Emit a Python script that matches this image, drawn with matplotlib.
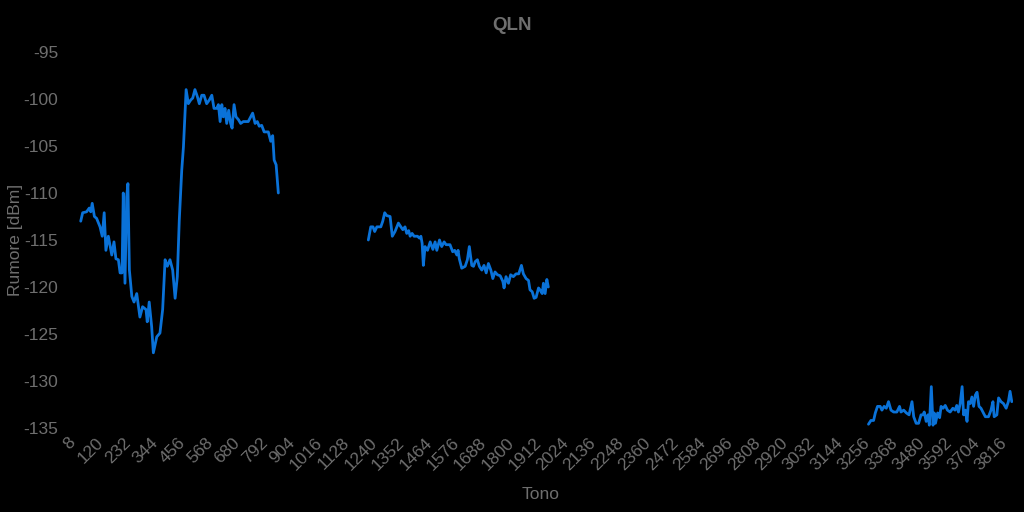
import numpy as np
import matplotlib
matplotlib.use("Agg")
import matplotlib.pyplot as plt

# Segment 1
tone1 = [60, 68, 84, 95, 101, 107, 116, 125, 139, 148, 156, 163, 173, 187, 196, 204, 214, 221, 229, 234,
         241, 248, 253, 259, 269, 278, 289, 302, 313, 327, 332, 340, 350, 357, 371, 384, 395, 405, 414, 425,
         436, 446, 455, 463, 473, 480, 491, 500, 510, 518, 527, 537, 545, 555, 564, 575, 586, 596, 605, 616,
         623, 630, 637, 643, 650, 657, 665, 673, 679, 687, 695, 705, 714, 725, 745, 763, 773, 782, 790, 800,
         810, 827, 837, 845, 851, 859, 868]
qln1 = [-113.0, -112.1, -112.0, -111.6, -112.0, -111.1, -112.5, -112.7, -113.6, -114.6, -112.1, -116.1, -114.6,
        -116.6, -115.2, -117.0, -117.1, -118.5, -118.5, -110.0, -119.6, -110.4, -109.0, -118.2, -121.0, -121.6,
        -120.7, -123.2, -122.1, -122.4, -123.7, -121.6, -124.2, -127.0, -125.3, -124.9, -122.4, -117.1, -117.8,
        -117.1, -118.2, -121.2, -118.9, -112.9, -107.6, -105.1, -99.0, -100.5, -100.1, -99.9, -99.0, -99.75,
        -100.5, -99.6, -99.6, -100.5, -100.1, -99.6, -101.0, -101.0, -100.6, -102.4, -100.6, -101.9, -101.0,
        -102.6, -101.2, -102.6, -103.1, -100.6, -101.9, -102.2, -102.6, -102.4, -102.4, -101.5, -102.6, -102.4,
        -102.9, -102.8, -103.5, -103.5, -104.5, -103.9, -106.5, -107.0, -110.0]

# Segment 2
tone2 = [1236, 1246, 1255, 1262, 1271, 1287, 1295, 1303, 1311, 1325, 1334, 1345, 1359, 1369, 1377, 1386, 1393,
         1401, 1407, 1415, 1423, 1437, 1445, 1451, 1456, 1461, 1468, 1478, 1489, 1500, 1509, 1516, 1527, 1536,
         1546, 1554, 1563, 1570, 1581, 1589, 1598, 1603, 1608, 1618, 1632, 1641, 1649, 1659, 1666, 1673, 1682,
         1690, 1700, 1709, 1718, 1727, 1737, 1745, 1754, 1764, 1775, 1786, 1791, 1799, 1809, 1818, 1829, 1840,
         1851, 1862, 1870, 1881, 1891, 1897, 1906, 1914, 1922, 1932, 1938, 1947, 1952, 1959, 1966, 1972]
qln2 = [-115.0, -113.6, -113.6, -114.1, -113.6, -113.6, -113.0, -112.1, -112.4, -112.5, -114.6, -114.1, -113.2,
        -113.6, -113.9, -113.6, -114.3, -114.0, -114.6, -114.3, -114.6, -114.6, -114.8, -114.6, -115.35, -117.7,
        -115.7, -116.1, -115.2, -116.0, -115.2, -116.1, -115.0, -115.7, -115.2, -115.5, -115.5, -115.5, -116.25,
        -116.1, -116.6, -116.1, -117.0, -118.0, -117.8, -117.1, -115.7, -117.7, -117.8, -117.3, -117.1, -117.8,
        -118.2, -117.7, -118.5, -117.5, -118.2, -119.1, -118.4, -118.7, -118.8, -119.4, -120.1, -118.9, -119.6,
        -118.7, -118.9, -118.6, -118.6, -117.7, -118.6, -119.1, -119.3, -120.3, -120.5, -121.2, -121.1, -120.1,
        -120.3, -120.7, -119.6, -120.7, -119.2, -120.0]

# Segment 3
tone3 = [3281, 3291, 3302, 3309, 3318, 3329, 3336, 3345, 3354, 3363, 3373, 3384, 3397, 3408, 3414, 3425, 3436,
         3447, 3459, 3466, 3476, 3486, 3496, 3504, 3509, 3517, 3524, 3530, 3538, 3545, 3550, 3555, 3564, 3572,
         3578, 3586, 3595, 3604, 3615, 3626, 3635, 3642, 3649, 3656, 3664, 3670, 3677, 3684, 3690, 3697, 3704,
         3711, 3718, 3725, 3733, 3741, 3749, 3759, 3772, 3782, 3790, 3795, 3806, 3813, 3823, 3833, 3844, 3853,
         3860, 3867]
qln3 = [-134.6, -134.2, -134.2, -133.4, -132.7, -132.7, -133.1, -132.7, -132.9, -132.2, -133.1, -133.3, -133.3,
        -132.7, -133.3, -133.1, -133.4, -133.6, -132.2, -133.8, -134.5, -134.5, -133.6, -133.6, -133.3, -134.3,
        -133.6, -134.7, -130.6, -134.7, -133.4, -134.5, -133.4, -133.9, -132.7, -132.9, -132.6, -133.1, -133.3,
        -132.9, -133.1, -132.6, -133.3, -132.4, -130.6, -133.6, -133.1, -134.3, -132.2, -132.4, -131.7, -132.7,
        -131.5, -131.2, -132.7, -132.9, -133.3, -133.8, -133.8, -133.1, -132.2, -133.8, -133.6, -131.8, -132.2,
        -132.4, -132.9, -132.2, -131.1, -132.2]

xtick_labels = list(range(8, 3817, 112))
yticks = [-95, -100, -105, -110, -115, -120, -125, -130, -135]

plt.rcParams['font.family'] = ['Liberation Sans', 'DejaVu Sans']

fig = plt.figure(figsize=(10.24, 5.12), dpi=100, facecolor='black')
ax = fig.add_axes([68 / 1024, 84 / 512, 945 / 1024, 376 / 512], facecolor='black')

line_color = '#0a72d8'
for t, q in [(tone1, qln1), (tone2, qln2), (tone3, qln3)]:
    ax.plot(t, q, color=line_color, lw=2.0, solid_joinstyle='round', solid_capstyle='round')

ax.set_xlim(8, 3872)
ax.set_ylim(-135, -95)
ax.set_xticks(xtick_labels)
ax.set_xticklabels([str(v) for v in xtick_labels], rotation=45, ha='right', rotation_mode='anchor')
ax.set_yticks(yticks)
ax.set_yticklabels([str(v) for v in yticks])

text_color = '#6e6e6e'
ax.tick_params(axis='both', length=0, colors=text_color, labelsize=12.5)
ax.tick_params(axis='x', pad=5)
ax.tick_params(axis='y', pad=7)
for s in ax.spines.values():
    s.set_visible(False)

ax.set_xlabel('Tono', color=text_color, fontsize=12.5, labelpad=10)
ax.set_ylabel('Rumore [dBm]', color=text_color, fontsize=12.5, labelpad=0)
fig.text(512 / 1024, 1 - 25 / 512, 'QLN', color='#6e6e6e', fontsize=13.5,
         fontweight='bold', ha='center', va='center')

fig.savefig('out.png', dpi=100, facecolor='black')
